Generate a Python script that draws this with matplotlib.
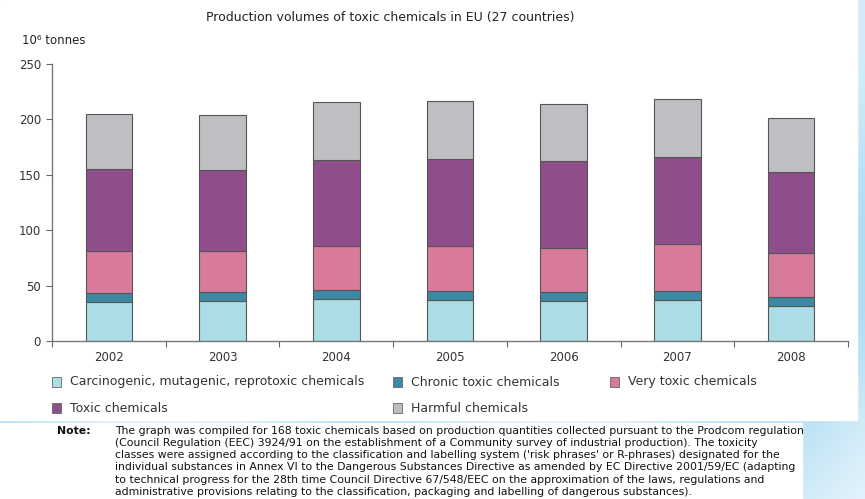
import numpy as np
import matplotlib
matplotlib.use('Agg')
import matplotlib.pyplot as plt
from matplotlib.patches import Rectangle

# Production volumes, 10^6 tonnes, per toxicity class
years = ['2002', '2003', '2004', '2005', '2006', '2007', '2008']
carcinogenic = [35.3, 36.3, 38.1, 36.6, 36.0, 36.9, 31.7]
chronic = [7.6, 7.5, 7.5, 8.4, 7.8, 8.1, 7.6]
very_toxic = [38.4, 37.5, 40.2, 40.8, 40.5, 42.6, 40.5]
toxic = [74.3, 73.1, 77.3, 78.6, 77.9, 78.3, 72.5]
harmful = [48.9, 49.5, 52.9, 52.2, 52.0, 52.1, 48.6]

labels = ['Carcinogenic, mutagenic, reprotoxic chemicals', 'Chronic toxic chemicals',
          'Very toxic chemicals', 'Toxic chemicals', 'Harmful chemicals']
colors = ['#acdde6', '#3d88a3', '#d77a9b', '#904d8c', '#bdbfc2']

note = ("The graph was compiled for 168 toxic chemicals based on production quantities collected pursuant to the Prodcom regulation\n"
        "(Council Regulation (EEC) 3924/91 on the establishment of a Community survey of industrial production). The toxicity\n"
        "classes were assigned according to the classification and labelling system ('risk phrases' or R-phrases) designated for the\n"
        "individual substances in Annex VI to the Dangerous Substances Directive as amended by EC Directive 2001/59/EC (adapting\n"
        "to technical progress for the 28th time Council Directive 67/548/EEC on the approximation of the laws, regulations and\n"
        "administrative provisions relating to the classification, packaging and labelling of dangerous substances).")

W, H = 865, 499
fig = plt.figure(figsize=(W / 100, H / 100), dpi=100)

# light blue backdrop with white panels for chart and note
bg = fig.add_axes([0, 0, 1, 1], zorder=-10)
gx = np.linspace(0, 1, 200)
gy = np.linspace(0, 1, 100)
grad = 0.5 + 0.3 * np.sin(gx[None, :] * 14 + gy[:, None] * 6) + 0.2 * gy[:, None]
bg.imshow(grad, cmap=matplotlib.colors.LinearSegmentedColormap.from_list('b', ['#a6d9f2', '#e3f3fb']),
          extent=[0, 1, 0, 1], aspect='auto')
bg.add_patch(Rectangle((0, 1 - 420 / H), 857 / W, 420 / H, color='white', transform=bg.transAxes))
bg.add_patch(Rectangle((0, 0), 802 / W, (H - 423) / H, color='white', transform=bg.transAxes))
bg.set_xlim(0, 1)
bg.set_ylim(0, 1)
bg.axis('off')

ax = fig.add_axes([52 / W, (H - 341) / H, (848 - 52) / W, (341 - 64) / H])
x = np.arange(len(years))
series = [carcinogenic, chronic, very_toxic, toxic, harmful]
bottom = np.zeros(len(years))
for vals, c in zip(series, colors):
    ax.bar(x, vals, 0.41, bottom=bottom, color=c, edgecolor='#555555', linewidth=0.8)
    bottom += np.array(vals)

ax.set_xlim(-0.5, len(years) - 0.5)
ax.set_ylim(0, 250)
ax.set_yticks([0, 50, 100, 150, 200, 250])
ax.set_xticks(x)
ax.set_xticklabels(years)
ax.set_xticks(np.arange(-0.5, len(years)), minor=True)
ax.tick_params(axis='x', which='major', length=0, pad=7)
ax.tick_params(axis='x', which='minor', length=4, color='#666666', width=0.8)
ax.tick_params(axis='y', length=4, color='#666666', width=0.8, pad=4)
ax.tick_params(labelsize=8.5, labelcolor='#333333')
for s in ['top', 'right']:
    ax.spines[s].set_visible(False)
for s in ['left', 'bottom']:
    ax.spines[s].set_color('#777777')
    ax.spines[s].set_linewidth(1.0)

fig.text(390 / W, 1 - 18 / H, 'Production volumes of toxic chemicals in EU (27 countries)',
         ha='center', va='center', fontsize=9, color='#222222')
fig.text(22 / W, 1 - 41 / H, '10\u2076 tonnes', ha='left', va='center', fontsize=8.5, color='#222222')

# legend laid out in three columns
legend_pos = [(52, 382), (393, 382), (610, 382), (52, 408), (393, 408)]
for (px, py), lab, c in zip(legend_pos, labels, colors):
    fig.patches.append(Rectangle((px / W, 1 - (py + 5) / H), 9 / W, 10 / H, facecolor=c,
                                 edgecolor='#666666', linewidth=0.6, transform=fig.transFigure))
    fig.text((px + 18) / W, 1 - py / H, lab, ha='left', va='center', fontsize=9, color='#333333')

fig.text(57 / W, 1 - 426 / H, 'Note:', ha='left', va='top', fontsize=7.8, fontweight='bold', color='#111111')
fig.text(115 / W, 1 - 426 / H, note, ha='left', va='top', fontsize=7.8, color='#111111', linespacing=1.27)

fig.savefig('out.png', dpi=100)
